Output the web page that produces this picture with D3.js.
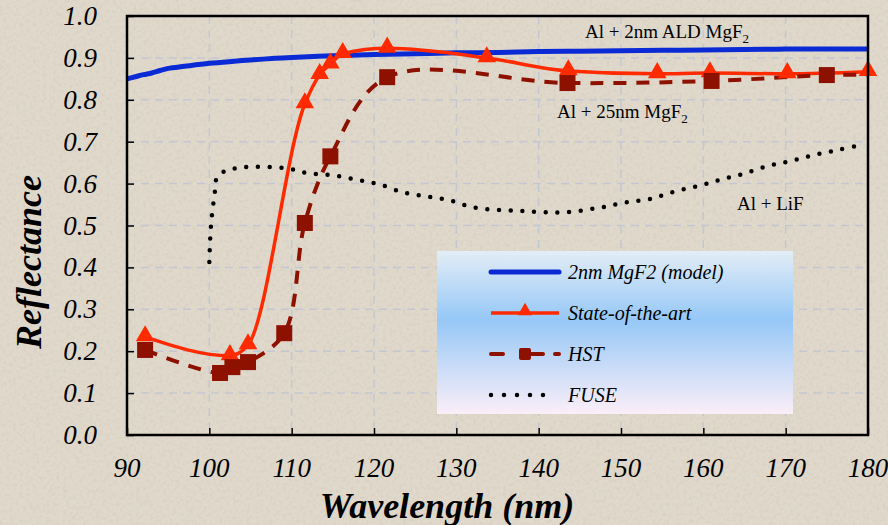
<!DOCTYPE html>
<html>
<head>
<meta charset="utf-8">
<script src="https://d3js.org/d3.v7.min.js"></script>
</head>
<body style="margin:0">
<script>
// wavelength (nm), reflectance
const model2nm = [[90,0.85],[91,0.855],[92,0.86],[93,0.864],[94,0.87],[95,0.875],[97,0.88],[100,0.887],
  [103,0.892],[105,0.895],[108,0.899],[110,0.901],[115,0.905],[120,0.908],[125,0.91],[130,0.912],
  [135,0.913],[140,0.915],[145,0.916],[150,0.917],[155,0.918],[160,0.919],[165,0.92],[170,0.921],
  [175,0.921],[180,0.921]];
const stateOfArt = [[92.2,0.234],[102.5,0.189],[104.7,0.215],[111.6,0.79],[113.4,0.86],[114.7,0.885],
  [116.2,0.91],[121.6,0.923],[133.7,0.9],[143.6,0.869],[154.4,0.862],[160.8,0.864],[170.2,0.862],[180,0.867]];
const hst = [[92.2,0.203],[101.3,0.148],[102.8,0.162],[104.7,0.174],[109.1,0.243],[111.6,0.506],
  [114.7,0.665],[121.6,0.854],[143.5,0.84],[161,0.845],[175,0.859],[180,0.86]];
const fuse = [[100,0.413],[100.2,0.5],[100.7,0.585],[100.9,0.613],[101.9,0.63],[103.4,0.637],[105.3,0.64],
  [109.2,0.637],[112,0.625],[114.9,0.62],[117.7,0.61],[120.5,0.599],[123.4,0.58],[126.2,0.57],[129,0.561],
  [131.9,0.544],[135,0.537],[137.8,0.535],[140.5,0.532],[143.5,0.532],[147.8,0.544],[150.8,0.556],
  [153.5,0.563],[156.3,0.58],[159.3,0.594],[162,0.609],[164.8,0.623],[167.8,0.642],[170.6,0.654],
  [173.4,0.668],[176.3,0.68],[179.1,0.692]];
const xTicks = [90,100,110,120,130,140,150,160,170,180];
const yTicks = [0,0.1,0.2,0.3,0.4,0.5,0.6,0.7,0.8,0.9,1.0];
const legendNames = ["2nm MgF2 (model)", "State-of-the-art", "HST", "FUSE"];

const FONT = "'Liberation Serif'";
const W = 888, H = 525;
const margin = {top: 16, right: 20, bottom: 90, left: 127};
const w = W - margin.left - margin.right;
const h = H - margin.top - margin.bottom;

const svg = d3.select("body").append("svg")
    .attr("width", W).attr("height", H);

const defs = svg.append("defs");
// speckled paper background
const noise = defs.append("filter").attr("id", "grain")
    .attr("x", 0).attr("y", 0).attr("width", "100%").attr("height", "100%");
noise.append("feTurbulence").attr("type", "fractalNoise")
    .attr("baseFrequency", 0.3).attr("numOctaves", 2).attr("seed", 5);
noise.append("feColorMatrix").attr("type", "matrix")
    .attr("values", "0 0 0 0 0.5  0 0 0 0 0.47  0 0 0 0 0.41  0 0 0 -1.8 1.0");
noise.append("feComposite").attr("in2", "SourceGraphic").attr("operator", "in");

const grad = defs.append("linearGradient").attr("id", "legbg")
    .attr("x1", 0).attr("y1", 0).attr("x2", 0).attr("y2", 1);
grad.append("stop").attr("offset", "0%").attr("stop-color", "#e3edf6");
grad.append("stop").attr("offset", "42%").attr("stop-color", "#96c8f7");
grad.append("stop").attr("offset", "100%").attr("stop-color", "#fbeef8");

svg.append("rect").attr("width", W).attr("height", H).attr("fill", "#e0d9cb");
svg.append("rect").attr("width", W).attr("height", H).attr("fill", "#e0d9cb")
    .attr("filter", "url(#grain)").attr("opacity", 0.35);

const g = svg.append("g")
    .attr("transform", "translate(" + margin.left + "," + margin.top + ")");

const x = d3.scaleLinear().domain([90, 180]).range([0, w]);
const y = d3.scaleLinear().domain([0, 1]).range([h, 0]);

// grid
g.append("g").selectAll("line").data(xTicks.slice(1, -1)).enter().append("line")
    .attr("x1", d => x(d)).attr("x2", d => x(d)).attr("y1", 0).attr("y2", h)
    .attr("stroke", "#c3c7d3").attr("stroke-width", 1.5).attr("stroke-dasharray", "8,6");
g.append("g").selectAll("line").data(yTicks.slice(1, -1)).enter().append("line")
    .attr("y1", d => y(d)).attr("y2", d => y(d)).attr("x1", 0).attr("x2", w)
    .attr("stroke", "#c3c7d3").attr("stroke-width", 1.5).attr("stroke-dasharray", "8,6");

// axes with inward ticks, labels drawn separately
const xAxis = g.append("g").attr("transform", "translate(0," + h + ")")
    .call(d3.axisBottom(x).tickValues(xTicks).tickSizeInner(-7).tickSizeOuter(0).tickFormat(""));
const yAxis = g.append("g")
    .call(d3.axisLeft(y).tickValues(yTicks).tickSizeInner(-7).tickSizeOuter(0).tickFormat(""));
[xAxis, yAxis].forEach(a => {
  a.select(".domain").remove();
  a.selectAll("line").attr("stroke", "#000").attr("stroke-width", 1.5);
  a.selectAll("text").remove();
});

g.selectAll(".xl").data(xTicks).enter().append("text")
    .attr("x", d => x(d)).attr("y", h + 42)
    .attr("text-anchor", "middle")
    .style("font-family", FONT).attr("font-style", "italic")
    .attr("font-size", 27).text(d => d);
g.selectAll(".yl").data(yTicks).enter().append("text")
    .attr("x", -30).attr("y", d => y(d) + 9)
    .attr("text-anchor", "end")
    .style("font-family", FONT).attr("font-style", "italic")
    .attr("font-size", 27).text(d => d.toFixed(1));

const smooth = d3.line().x(d => x(d[0])).y(d => y(d[1])).curve(d3.curveCatmullRom.alpha(0.5));
const mono = d3.line().x(d => x(d[0])).y(d => y(d[1])).curve(d3.curveMonotoneX);

g.append("path").datum(fuse).attr("d", smooth).attr("fill", "none")
    .attr("stroke", "#000").attr("stroke-width", 4.5)
    .attr("stroke-linecap", "round").attr("stroke-dasharray", "0,11.7");

g.append("path").datum(model2nm).attr("d", smooth).attr("fill", "none")
    .attr("stroke", "#0a2ad6").attr("stroke-width", 5);

g.append("path").datum(stateOfArt).attr("d", mono).attr("fill", "none")
    .attr("stroke", "#ff2a00").attr("stroke-width", 3.5);

g.append("path").datum(hst).attr("d", smooth).attr("fill", "none")
    .attr("stroke", "#8e1100").attr("stroke-width", 4).attr("stroke-dasharray", "13,10");

const tri = d3.symbol().type(d3.symbolTriangle).size(150);
g.selectAll(".tri").data(stateOfArt).enter().append("path")
    .attr("transform", d => "translate(" + x(d[0]) + "," + (y(d[1]) - 1) + ")")
    .attr("d", tri).attr("fill", "#ff2a00");

g.selectAll(".sq").data(hst.filter(d => d[0] < 180)).enter().append("rect")
    .attr("x", d => x(d[0]) - 8).attr("y", d => y(d[1]) - 8)
    .attr("width", 16).attr("height", 16)
    .attr("fill", "#8e1100");

// frame
g.append("rect").attr("width", w).attr("height", h)
    .attr("fill", "none").attr("stroke", "#000").attr("stroke-width", 2.5);

// annotations
function note(px, py, main, sub) {
  const t = svg.append("text").attr("x", px).attr("y", py)
      .style("font-family", FONT).attr("font-size", 19);
  t.append("tspan").text(main);
  if (sub) t.append("tspan").attr("font-size", 13).attr("dy", 5).text(sub);
}
note(585, 38, "Al + 2nm ALD MgF", "2");
note(557, 118, "Al + 25nm MgF", "2");
note(737, 210, "Al + LiF");

// legend
const leg = svg.append("g");
leg.append("rect").attr("x", 437).attr("y", 251).attr("width", 356).attr("height", 163)
    .attr("fill", "url(#legbg)");
const rowY = [272, 313, 354, 395];
leg.append("line").attr("x1", 491).attr("x2", 559).attr("y1", rowY[0]).attr("y2", rowY[0])
    .attr("stroke", "#0a2ad6").attr("stroke-width", 5).attr("stroke-linecap", "round");
leg.append("line").attr("x1", 491).attr("x2", 559).attr("y1", rowY[1]).attr("y2", rowY[1])
    .attr("stroke", "#ff2a00").attr("stroke-width", 3.5);
leg.append("path").attr("transform", "translate(525," + (rowY[1] - 2) + ")")
    .attr("d", d3.symbol().type(d3.symbolTriangle).size(90)).attr("fill", "#ff2a00");
leg.append("line").attr("x1", 491).attr("x2", 559).attr("y1", rowY[2]).attr("y2", rowY[2])
    .attr("stroke", "#8e1100").attr("stroke-width", 4).attr("stroke-dasharray", "12,28,12")
    .attr("stroke-linecap", "round");
leg.append("rect").attr("x", 519).attr("y", rowY[2] - 6).attr("width", 12).attr("height", 12)
    .attr("rx", 2).attr("fill", "#8e1100");
leg.append("line").attr("x1", 491).attr("x2", 556).attr("y1", rowY[3]).attr("y2", rowY[3])
    .attr("stroke", "#000").attr("stroke-width", 4.5).attr("stroke-dasharray", "0,13")
    .attr("stroke-linecap", "round");
leg.selectAll(".lt").data(legendNames).enter().append("text")
    .attr("x", 568).attr("y", (d, i) => rowY[i] + 7)
    .style("font-family", FONT).attr("font-style", "italic")
    .attr("font-size", 20).text(d => d);

// axis titles
svg.append("text").attr("transform", "translate(41,262) rotate(-90)")
    .attr("text-anchor", "middle")
    .style("font-family", FONT).attr("font-style", "italic").attr("font-weight", "bold")
    .attr("font-size", 36).text("Reflectance");
svg.append("text").attr("x", 447).attr("y", 518)
    .attr("text-anchor", "middle")
    .style("font-family", FONT).attr("font-style", "italic").attr("font-weight", "bold")
    .attr("font-size", 36).text("Wavelength (nm)");
</script>
</body>
</html>
